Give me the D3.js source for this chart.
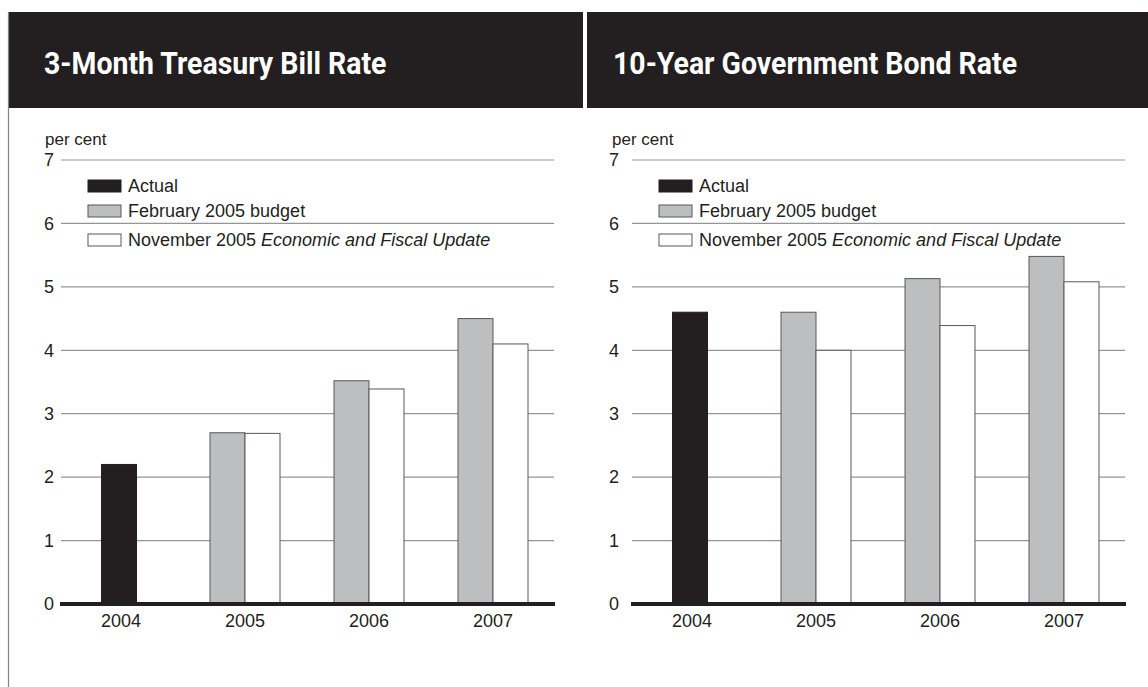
<!DOCTYPE html>
<html>
    <head>
        <script src="https://d3js.org/d3.v7.min.js"></script>
        <style>
            body{margin:0;background:#fff;}
            text{font-family:"Liberation Sans", Arial, sans-serif;fill:#231f20;}
        </style>
    </head>
    <body>
        <svg height="687" width="1148" id="chart"></svg>
        <script>
            // data
            const years=["2004", "2005", "2006", "2007"];
            const billActual=[2.2, null, null, null];
            const billFeb=[null, 2.7, 3.52, 4.5];
            const billNov=[null, 2.69, 3.39, 4.1];
            const bondActual=[4.6, null, null, null];
            const bondFeb=[null, 4.6, 5.13, 5.48];
            const bondNov=[null, 4.0, 4.39, 5.08];
            const yTicks=[0, 1, 2, 3, 4, 5, 6, 7];
            const titles=["3-Month Treasury Bill Rate", "10-Year Government Bond Rate"];
            const legendNames=["Actual", "February 2005 budget", "November 2005 "];
            const legendItalic=["", "", "Economic and Fiscal Update"];

            const fills=["#231f20", "#bcbec0", "#ffffff"];
            const barW=35;

            let svg=d3.select("#chart");

            // header boxes
            svg.append("rect").attr("x", 8).attr("y", 12).attr("width", 575).attr("height", 96).attr("fill", "#231f20");
            svg.append("rect").attr("x", 587).attr("y", 12).attr("width", 561).attr("height", 96).attr("fill", "#231f20");
            svg.append("line").attr("x1", 8.5).attr("x2", 8.5).attr("y1", 12).attr("y2", 687)
                .attr("stroke", "#808285").attr("stroke-width", 1.2);

            let panels=[
                {title:titles[0], tx:44, x0:59, x1:555, labelX:54, unitX:45, series:[billActual, billFeb, billNov]},
                {title:titles[1], tx:613, x0:630, x1:1126, labelX:619, unitX:612, series:[bondActual, bondFeb, bondNov]}
            ];

            let y=d3.scaleLinear().domain([0, 7]).range([604, 160]);

            // titles, squeezed to look condensed
            let titleNodes=panels.map(p=>svg.append("text")
                .attr("x", p.tx).attr("y", 74)
                .style("font-family", "Roboto, 'Liberation Sans', sans-serif")
                .style("font-weight", "bold").style("font-size", "31px")
                .style("fill", "#fff")
                .text(p.title));
            let squeeze=404/titleNodes[1].node().getComputedTextLength();
            titleNodes.forEach(t=>{
                let w=t.node().getComputedTextLength();
                t.attr("textLength", w*squeeze).attr("lengthAdjust", "spacingAndGlyphs");
            });

            panels.forEach(p=>{
                let g=svg.append("g");
                let x=d3.scaleBand().domain(years).range([p.x0, p.x1]);

                g.append("text").attr("x", p.unitX).attr("y", 145)
                    .style("font-size", "17px").text("per cent");

                // gridlines
                g.selectAll(".grid").data(yTicks.filter(d=>d>0)).join("line")
                    .attr("x1", p.x0+2).attr("x2", p.x1-1)
                    .attr("y1", d=>y(d)).attr("y2", d=>y(d))
                    .attr("stroke", "#939598").attr("stroke-width", 1.2);

                // y labels
                g.selectAll(".ylab").data(yTicks).join("text")
                    .attr("x", p.labelX).attr("y", d=>y(d)).attr("dy", "0.35em")
                    .attr("text-anchor", "end").style("font-size", "18px")
                    .text(d=>d);

                // bars
                years.forEach((yr, i)=>{
                    let c=x(yr)+x.bandwidth()/2;
                    let present=p.series.map((s, k)=>({k:k, v:s[i]})).filter(d=>d.v!=null);
                    present.forEach((d, j)=>{
                        let left=present.length==1 ? c-barW/2-2 : c-barW+j*barW;
                        g.append("rect")
                            .attr("x", left).attr("width", barW)
                            .attr("y", y(d.v)).attr("height", y(0)-y(d.v))
                            .attr("fill", fills[d.k])
                            .attr("stroke", d.k==0 ? "#231f20" : "#58595b").attr("stroke-width", 1);
                    });
                });

                // x axis
                g.append("line").attr("x1", p.x0+1).attr("x2", p.x1)
                    .attr("y1", y(0)).attr("y2", y(0))
                    .attr("stroke", "#231f20").attr("stroke-width", 4);
                g.selectAll(".xlab").data(years).join("text")
                    .attr("x", d=>x(d)+x.bandwidth()/2).attr("y", 627)
                    .attr("text-anchor", "middle").style("font-size", "18px")
                    .text(d=>d);

                // legend
                let lx=p.x0+29;
                let rows=[186, 211, 240];
                legendNames.forEach((name, k)=>{
                    g.append("rect").attr("x", lx).attr("y", rows[k]-6).attr("width", 33).attr("height", 12)
                        .attr("fill", fills[k]).attr("stroke", k==0 ? "#231f20" : "#58595b").attr("stroke-width", 1);
                    let t=g.append("text").attr("x", lx+40).attr("y", rows[k]).attr("dy", "0.35em")
                        .style("font-size", "18px");
                    t.append("tspan").text(name);
                    if(legendItalic[k]) t.append("tspan").style("font-style", "italic").text(legendItalic[k]);
                });
            });
        </script>
    </body>
</html>
